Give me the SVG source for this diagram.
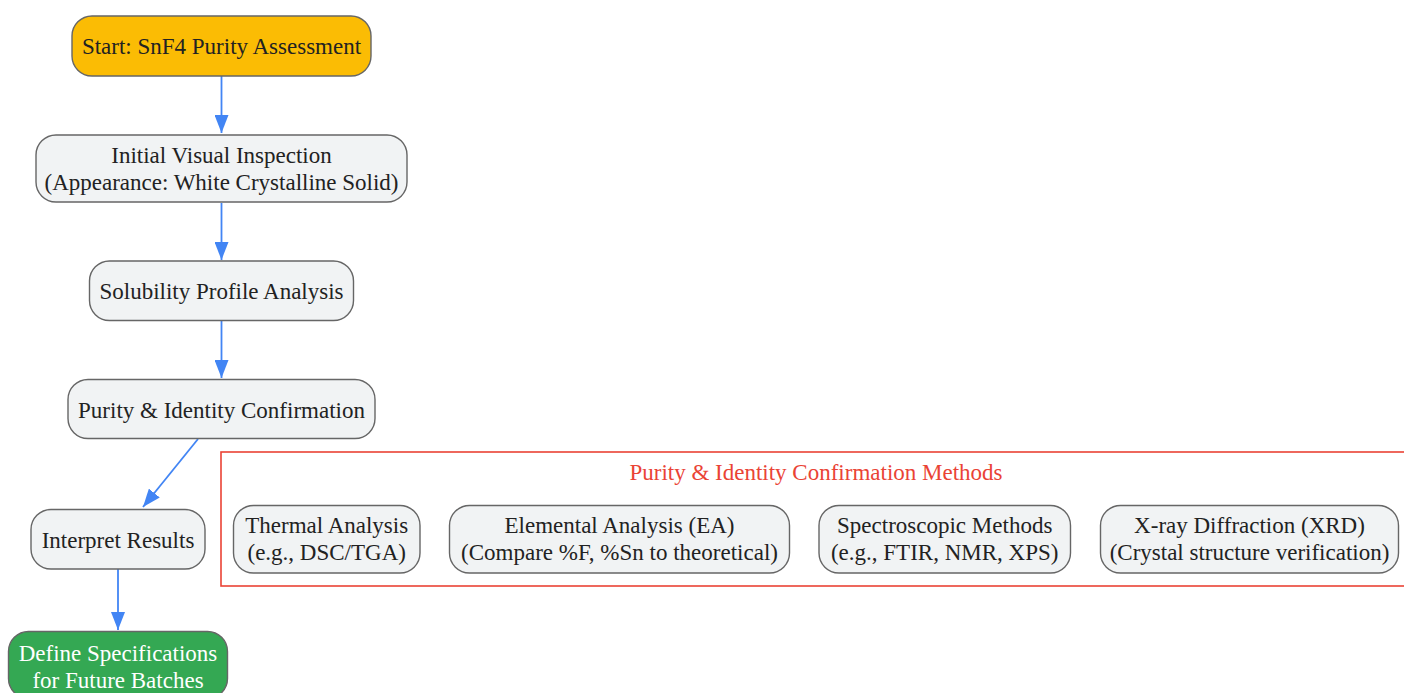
<svg xmlns="http://www.w3.org/2000/svg" width="1404" height="693" viewBox="0 0 1404 693">
<style>
.n rect{fill:#F1F3F4;stroke:#666;stroke-width:1.4}
.n text{font-family:"Liberation Serif","Times New Roman",serif;font-size:23px;fill:#222;text-anchor:middle}
#start rect{fill:#FBBC04}
#define rect{fill:#34A853}
#define text{fill:#fff}
.e{stroke:#4285F4;stroke-width:1.8;fill:none;marker-end:url(#ah)}
.cl{fill:none;stroke:#EA4335;stroke-width:1.6}
.cllabel{font-family:"Liberation Serif","Times New Roman",serif;font-size:23px;fill:#EA4335;text-anchor:middle}
</style>
<defs>
<marker id="ah" viewBox="0 0 18 14" refX="18" refY="7" markerWidth="18" markerHeight="14" markerUnits="userSpaceOnUse" orient="auto">
<path d="M0,0 L18,7 L0,14 Z" fill="#4285F4"/>
</marker>
</defs>
<rect width="1404" height="693" fill="#fff"/>
<g id="cluster">
<rect class="cl" x="221" y="452" width="1195" height="134"/>
<text class="cllabel" x="816" y="480">Purity &amp; Identity Confirmation Methods</text>
</g>
<g id="edges">
<path class="e" d="M221.5,76 L221.5,133"/>
<path class="e" d="M221.5,203 L221.5,260"/>
<path class="e" d="M221.5,321 L221.5,378"/>
<path class="e" d="M198,439 L143,507"/>
<path class="e" d="M118,569 L118,630"/>
</g>
<g id="start" class="n">
<rect x="72" y="16" width="299" height="60" rx="20"/>
<text x="221.5" y="54">Start: SnF4 Purity Assessment</text>
</g>
<g id="inspect" class="n">
<rect x="36" y="135" width="371" height="67" rx="20"/>
<text x="221.5" y="163">Initial Visual Inspection</text>
<text x="221.5" y="190">(Appearance: White Crystalline Solid)</text>
</g>
<g id="solubility" class="n">
<rect x="89.5" y="261" width="264" height="59.5" rx="20"/>
<text x="221.5" y="299">Solubility Profile Analysis</text>
</g>
<g id="purity" class="n">
<rect x="68" y="379.5" width="307" height="59" rx="20"/>
<text x="221.5" y="417.5">Purity &amp; Identity Confirmation</text>
</g>
<g id="interpret" class="n">
<rect x="31" y="509.5" width="174" height="59.5" rx="20"/>
<text x="118" y="547.5">Interpret Results</text>
</g>
<g id="define" class="n">
<rect x="8.5" y="631.5" width="219" height="67" rx="20"/>
<text x="118" y="661">Define Specifications</text>
<text x="118" y="688">for Future Batches</text>
</g>
<g id="thermal" class="n">
<rect x="233.5" y="505.5" width="186.5" height="67.5" rx="20"/>
<text x="326.7" y="533">Thermal Analysis</text>
<text x="326.7" y="560">(e.g., DSC/TGA)</text>
</g>
<g id="elemental" class="n">
<rect x="449.5" y="505.5" width="340" height="67.5" rx="20"/>
<text x="619.5" y="533">Elemental Analysis (EA)</text>
<text x="619.5" y="560">(Compare %F, %Sn to theoretical)</text>
</g>
<g id="spectro" class="n">
<rect x="819" y="505.5" width="251.5" height="67.5" rx="20"/>
<text x="944.7" y="533">Spectroscopic Methods</text>
<text x="944.7" y="560">(e.g., FTIR, NMR, XPS)</text>
</g>
<g id="xrd" class="n">
<rect x="1100.5" y="505.5" width="298" height="67.5" rx="20"/>
<text x="1249.5" y="533">X-ray Diffraction (XRD)</text>
<text x="1249.5" y="560">(Crystal structure verification)</text>
</g>
</svg>
